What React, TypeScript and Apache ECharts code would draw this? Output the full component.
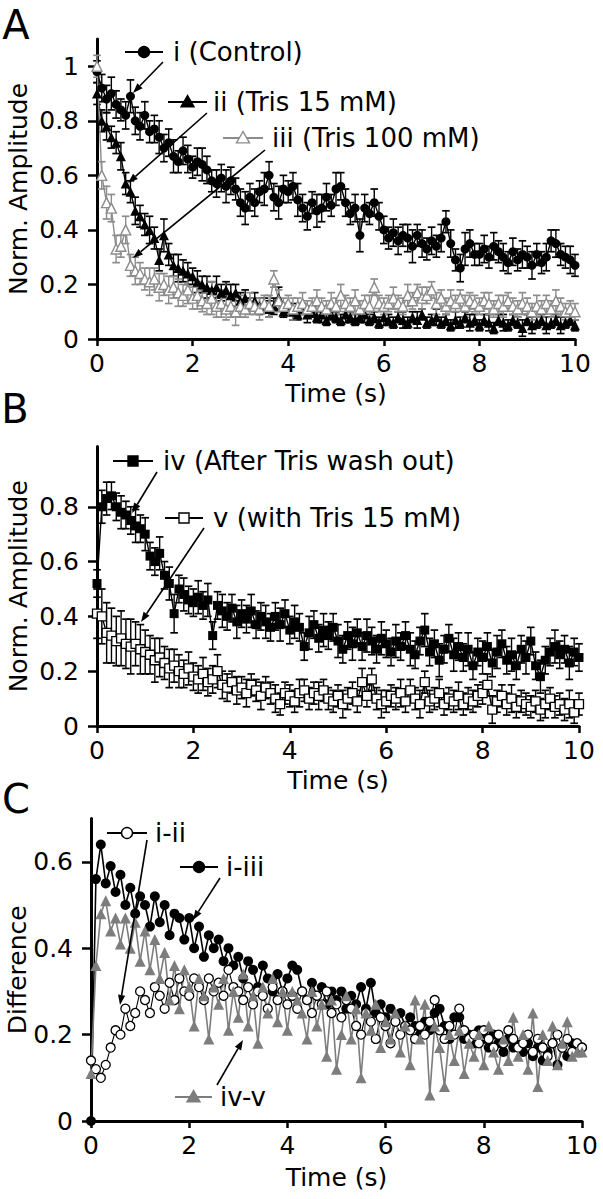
import React, { useEffect, useRef } from "react";
import * as echarts from "echarts";

// sampling times (s)
const DT = 0.1;
const TIME = Array.from({ length: 101 }, (_, k) => Math.round(k * DT * 10) / 10);

// Panel A
const ctrl = [
  0.98, 0.92, 0.88, 0.9, 0.86, 0.84, 0.82, 0.89, 0.8, 0.78,
  0.82, 0.76, 0.77, 0.74, 0.7, 0.72, 0.67, 0.65, 0.69, 0.66,
  0.63, 0.65, 0.64, 0.62, 0.58, 0.57, 0.59, 0.56, 0.58, 0.55,
  0.5, 0.48, 0.52, 0.5, 0.54, 0.55, 0.6, 0.52, 0.5, 0.55,
  0.54, 0.56, 0.51, 0.48, 0.45, 0.5, 0.47, 0.48, 0.52, 0.49,
  0.55, 0.56, 0.5, 0.46, 0.48, 0.38, 0.48, 0.46, 0.5, 0.45,
  0.4, 0.37, 0.39, 0.36, 0.38, 0.37, 0.34, 0.38, 0.35, 0.33,
  0.36, 0.34, 0.37, 0.43, 0.35, 0.29, 0.26, 0.33, 0.35, 0.31,
  0.31, 0.33, 0.3, 0.34, 0.32, 0.3, 0.28, 0.32, 0.29, 0.31,
  0.3, 0.27, 0.31, 0.28, 0.3, 0.36, 0.35, 0.31, 0.3, 0.29,
  0.27,
];
const ctrlErr = [
  0.04, 0.05, 0.05, 0.06, 0.05, 0.04, 0.05, 0.06, 0.05, 0.05,
  0.05, 0.04, 0.05, 0.06, 0.05, 0.05, 0.06, 0.04, 0.05, 0.05,
  0.04, 0.05, 0.06, 0.05, 0.04, 0.05, 0.05, 0.06, 0.05, 0.04,
  0.05, 0.06, 0.05, 0.05, 0.04, 0.06, 0.05, 0.05, 0.06, 0.05,
  0.04, 0.05, 0.06, 0.05, 0.05, 0.04, 0.06, 0.05, 0.05, 0.04,
  0.06, 0.05, 0.05, 0.04, 0.05, 0.06, 0.05, 0.04, 0.05, 0.05,
  0.05, 0.04, 0.05, 0.05, 0.04, 0.05, 0.06, 0.04, 0.05, 0.04,
  0.05, 0.04, 0.05, 0.04, 0.05, 0.04, 0.05, 0.06, 0.05, 0.04,
  0.04, 0.05, 0.04, 0.05, 0.04, 0.05, 0.04, 0.05, 0.04, 0.05,
  0.04, 0.05, 0.04, 0.04, 0.05, 0.04, 0.05, 0.04, 0.04, 0.05,
  0.04,
];
const tris15 = [
  0.9, 0.8, 0.78, 0.74, 0.72, 0.67, 0.57, 0.54, 0.47, 0.45,
  0.42, 0.4, 0.37, 0.29, 0.38, 0.31, 0.27, 0.26, 0.25, 0.24,
  0.23, 0.21, 0.2, 0.19, 0.18, 0.19, 0.17, 0.18, 0.16, 0.17,
  0.14, 0.15, 0.13, 0.14, 0.12, 0.13, 0.11, 0.12, 0.15, 0.1,
  0.11, 0.1, 0.09, 0.11, 0.09, 0.1, 0.08, 0.09, 0.07, 0.09,
  0.08, 0.07, 0.09, 0.08, 0.07, 0.08, 0.09, 0.07, 0.08, 0.06,
  0.08, 0.07, 0.06, 0.08, 0.07, 0.06, 0.08, 0.07, 0.09, 0.06,
  0.07, 0.08, 0.06, 0.07, 0.05, 0.07, 0.06, 0.08, 0.06, 0.07,
  0.05, 0.07, 0.06, 0.04, 0.07, 0.06, 0.05, 0.07, 0.06, 0.04,
  0.07, 0.05, 0.06, 0.07, 0.05, 0.06, 0.07, 0.05, 0.06, 0.07,
  0.05,
];
const tris15Err = [
  0.04, 0.04, 0.05, 0.04, 0.04, 0.05, 0.04, 0.04, 0.05, 0.04,
  0.04, 0.05, 0.04, 0.04, 0.06, 0.04, 0.04, 0.05, 0.04, 0.04,
  0.03, 0.04, 0.03, 0.04, 0.03, 0.04, 0.03, 0.03, 0.04, 0.03,
  0.03, 0.03, 0.02, 0.03, 0.03, 0.02, 0.03, 0.03, 0.04, 0.02,
  0.02, 0.03, 0.02, 0.02, 0.03, 0.02, 0.02, 0.03, 0.02, 0.02,
  0.02, 0.02, 0.03, 0.02, 0.02, 0.02, 0.03, 0.02, 0.02, 0.02,
  0.03, 0.02, 0.02, 0.02, 0.03, 0.02, 0.02, 0.03, 0.02, 0.02,
  0.02, 0.03, 0.02, 0.02, 0.02, 0.03, 0.02, 0.02, 0.03, 0.02,
  0.02, 0.02, 0.03, 0.02, 0.02, 0.03, 0.02, 0.02, 0.02, 0.03,
  0.02, 0.03, 0.02, 0.02, 0.03, 0.02, 0.02, 0.03, 0.02, 0.02,
  0.02,
];
const tris100 = [
  1.0, 0.6, 0.5, 0.48, 0.33, 0.34, 0.4, 0.27, 0.25, 0.24,
  0.22, 0.21, 0.22, 0.19, 0.2, 0.18, 0.19, 0.17, 0.16, 0.18,
  0.15, 0.16, 0.14, 0.13, 0.15, 0.12, 0.13, 0.11, 0.12, 0.1,
  0.12, 0.11, 0.13, 0.12, 0.11, 0.13, 0.12, 0.22, 0.14, 0.12,
  0.13, 0.11, 0.12, 0.13, 0.11, 0.12, 0.14, 0.12, 0.11, 0.13,
  0.12, 0.16, 0.13, 0.12, 0.14, 0.11, 0.13, 0.12, 0.19, 0.13,
  0.12, 0.13, 0.15, 0.13, 0.12, 0.16, 0.14, 0.17, 0.15, 0.16,
  0.18, 0.13, 0.15, 0.12, 0.14, 0.13, 0.15, 0.12, 0.14, 0.13,
  0.12, 0.14, 0.13, 0.11, 0.13, 0.12, 0.14, 0.12, 0.11, 0.13,
  0.12, 0.1, 0.12, 0.11, 0.13, 0.11, 0.14, 0.12, 0.1, 0.11,
  0.1,
];
const tris100Err = [
  0.04, 0.05, 0.06, 0.05, 0.05, 0.04, 0.05, 0.04, 0.05, 0.04,
  0.04, 0.05, 0.04, 0.05, 0.04, 0.05, 0.04, 0.05, 0.04, 0.05,
  0.04, 0.05, 0.04, 0.04, 0.06, 0.04, 0.05, 0.04, 0.04, 0.05,
  0.04, 0.03, 0.04, 0.03, 0.04, 0.03, 0.04, 0.03, 0.04, 0.03,
  0.03, 0.04, 0.03, 0.04, 0.03, 0.03, 0.04, 0.03, 0.03, 0.04,
  0.03, 0.04, 0.03, 0.03, 0.04, 0.03, 0.03, 0.04, 0.03, 0.03,
  0.03, 0.03, 0.04, 0.03, 0.03, 0.04, 0.03, 0.03, 0.04, 0.03,
  0.03, 0.04, 0.03, 0.03, 0.04, 0.03, 0.03, 0.04, 0.03, 0.03,
  0.03, 0.03, 0.04, 0.03, 0.03, 0.04, 0.03, 0.03, 0.03, 0.04,
  0.03, 0.03, 0.04, 0.03, 0.03, 0.03, 0.04, 0.03, 0.03, 0.03,
  0.03,
];

// Panel B
const washOut = [
  0.52, 0.8, 0.83, 0.84, 0.8, 0.78, 0.77, 0.75, 0.73, 0.72,
  0.7, 0.62, 0.6, 0.63, 0.55, 0.52, 0.41, 0.5, 0.48, 0.46,
  0.45, 0.47, 0.44, 0.46, 0.33, 0.44, 0.42, 0.4, 0.43, 0.38,
  0.41, 0.39, 0.42, 0.37, 0.4, 0.38, 0.36, 0.4, 0.37, 0.41,
  0.35, 0.38, 0.36, 0.29, 0.34, 0.37, 0.32, 0.35, 0.33, 0.36,
  0.31, 0.28, 0.33, 0.3, 0.34, 0.29, 0.33, 0.31, 0.28, 0.32,
  0.3, 0.27, 0.31, 0.29, 0.33, 0.28, 0.26, 0.31, 0.35, 0.27,
  0.3, 0.24, 0.28, 0.32, 0.26, 0.29, 0.25, 0.28, 0.22, 0.27,
  0.25, 0.29, 0.23, 0.27, 0.3, 0.24, 0.26, 0.22, 0.28, 0.25,
  0.31, 0.22, 0.18, 0.24, 0.27, 0.29, 0.26, 0.28, 0.23, 0.27,
  0.25,
];
const washOutErr = [
  0.05, 0.06, 0.06, 0.05, 0.05, 0.06, 0.05, 0.05, 0.06, 0.05,
  0.06, 0.05, 0.05, 0.06, 0.05, 0.06, 0.07, 0.05, 0.06, 0.05,
  0.05, 0.06, 0.05, 0.06, 0.05, 0.05, 0.06, 0.05, 0.05, 0.06,
  0.05, 0.05, 0.06, 0.05, 0.05, 0.06, 0.05, 0.05, 0.06, 0.05,
  0.05, 0.06, 0.05, 0.05, 0.06, 0.05, 0.05, 0.06, 0.05, 0.05,
  0.06, 0.05, 0.05, 0.06, 0.05, 0.05, 0.06, 0.05, 0.05, 0.06,
  0.05, 0.05, 0.06, 0.05, 0.05, 0.06, 0.05, 0.05, 0.06, 0.05,
  0.05, 0.06, 0.05, 0.05, 0.06, 0.05, 0.05, 0.06, 0.05, 0.05,
  0.06, 0.05, 0.05, 0.06, 0.05, 0.05, 0.06, 0.05, 0.05, 0.06,
  0.05, 0.05, 0.06, 0.05, 0.05, 0.06, 0.05, 0.05, 0.06, 0.05,
  0.05,
];
const withTris = [
  0.41, 0.4, 0.34, 0.33, 0.31, 0.32, 0.3, 0.29, 0.3, 0.28,
  0.27, 0.26, 0.24, 0.25, 0.23, 0.21, 0.22, 0.2, 0.19, 0.21,
  0.18, 0.17, 0.19, 0.16, 0.17, 0.2, 0.15, 0.14, 0.16, 0.13,
  0.14, 0.12, 0.15, 0.13, 0.11, 0.14, 0.12, 0.1, 0.08, 0.12,
  0.11, 0.09, 0.12, 0.13, 0.1, 0.12, 0.11, 0.13, 0.1, 0.09,
  0.11, 0.08, 0.1, 0.12, 0.09, 0.16, 0.11, 0.17, 0.1, 0.08,
  0.09, 0.11, 0.1, 0.12, 0.09, 0.13, 0.1, 0.08, 0.16, 0.09,
  0.1, 0.12, 0.08, 0.1, 0.09, 0.11, 0.08, 0.1, 0.09, 0.11,
  0.12, 0.15, 0.06, 0.09, 0.11, 0.08, 0.1, 0.07, 0.09, 0.08,
  0.07, 0.09, 0.06, 0.08, 0.1, 0.07, 0.08, 0.06, 0.08, 0.05,
  0.08,
];
const withTrisErr = [
  0.09, 0.1, 0.11, 0.1, 0.09, 0.1, 0.09, 0.1, 0.08, 0.09,
  0.08, 0.07, 0.08, 0.07, 0.06, 0.07, 0.06, 0.06, 0.05, 0.06,
  0.05, 0.05, 0.06, 0.05, 0.05, 0.06, 0.05, 0.05, 0.04, 0.05,
  0.04, 0.05, 0.04, 0.04, 0.05, 0.04, 0.04, 0.05, 0.04, 0.04,
  0.04, 0.04, 0.05, 0.04, 0.04, 0.04, 0.05, 0.04, 0.04, 0.04,
  0.04, 0.05, 0.04, 0.04, 0.04, 0.05, 0.04, 0.04, 0.04, 0.05,
  0.04, 0.04, 0.04, 0.05, 0.04, 0.04, 0.04, 0.05, 0.04, 0.04,
  0.04, 0.05, 0.04, 0.04, 0.04, 0.05, 0.04, 0.04, 0.04, 0.04,
  0.04, 0.04, 0.05, 0.04, 0.04, 0.04, 0.05, 0.04, 0.04, 0.04,
  0.04, 0.04, 0.04, 0.05, 0.04, 0.04, 0.04, 0.04, 0.05, 0.04,
  0.04,
];

// Panel C
const diffIII = [
  0.0, 0.56, 0.64, 0.55, 0.59, 0.53, 0.57, 0.5, 0.54, 0.48,
  0.52, 0.5, 0.45, 0.52, 0.46, 0.5, 0.43, 0.48, 0.47, 0.42,
  0.47, 0.4, 0.45, 0.38, 0.43, 0.4, 0.42, 0.37, 0.4, 0.36,
  0.38, 0.33, 0.37, 0.35, 0.31, 0.36, 0.33, 0.3, 0.34, 0.3,
  0.33, 0.36, 0.35, 0.3, 0.28, 0.32, 0.29, 0.31, 0.27, 0.3,
  0.28, 0.3, 0.26, 0.29, 0.27, 0.31, 0.26, 0.32, 0.25, 0.27,
  0.24, 0.26, 0.23, 0.25, 0.22, 0.24, 0.22, 0.2, 0.23, 0.21,
  0.25, 0.26, 0.22, 0.19, 0.24, 0.24, 0.19, 0.2, 0.18, 0.21,
  0.19, 0.17, 0.2, 0.18, 0.16, 0.19, 0.17, 0.18, 0.16, 0.18,
  0.15, 0.17, 0.14, 0.16, 0.18, 0.13, 0.17, 0.15, 0.18, 0.16,
  0.17,
];
const diffII = [
  0.14, 0.12, 0.1, 0.13, 0.17, 0.21, 0.2, 0.26, 0.22, 0.25,
  0.3, 0.28, 0.25, 0.31, 0.29, 0.26, 0.32, 0.28, 0.33, 0.3,
  0.29, 0.33, 0.31, 0.28, 0.33, 0.3, 0.32, 0.29, 0.35, 0.31,
  0.3, 0.28, 0.31, 0.27, 0.3, 0.29, 0.26, 0.31, 0.28, 0.3,
  0.27, 0.29, 0.26, 0.3, 0.28, 0.25, 0.29, 0.27, 0.3, 0.25,
  0.27, 0.24, 0.28, 0.26, 0.22, 0.2, 0.25, 0.23, 0.19, 0.24,
  0.22, 0.18, 0.23, 0.2, 0.22, 0.21, 0.19, 0.22, 0.2, 0.23,
  0.28, 0.21, 0.19, 0.22, 0.2, 0.26, 0.21, 0.19, 0.2, 0.18,
  0.21, 0.19, 0.17, 0.2, 0.18, 0.21, 0.19, 0.17, 0.18, 0.2,
  0.16, 0.19, 0.17, 0.15, 0.18, 0.2, 0.17, 0.19, 0.16, 0.18,
  0.17,
];
const diffIVV = [
  0.11, 0.36, 0.48, 0.51, 0.44, 0.47, 0.41, 0.47, 0.4, 0.46,
  0.37, 0.44, 0.35, 0.42, 0.33, 0.39, 0.28, 0.36, 0.26, 0.35,
  0.31, 0.22, 0.33, 0.29, 0.19, 0.31, 0.27, 0.33, 0.21, 0.3,
  0.24, 0.34, 0.22, 0.29, 0.18, 0.31, 0.25, 0.33, 0.23, 0.3,
  0.21, 0.3, 0.28, 0.25, 0.19, 0.3, 0.22, 0.27, 0.15, 0.28,
  0.12, 0.2, 0.29, 0.19, 0.26, 0.1, 0.25, 0.21, 0.27, 0.17,
  0.23, 0.19, 0.25, 0.16, 0.22, 0.13, 0.28, 0.19, 0.27, 0.06,
  0.22, 0.17, 0.08, 0.2, 0.14, 0.21, 0.11, 0.18, 0.15, 0.2,
  0.13, 0.22, 0.16, 0.12, 0.19, 0.14, 0.24, 0.15, 0.2, 0.12,
  0.25, 0.08, 0.2, 0.14, 0.22, 0.13, 0.18, 0.23, 0.15, 0.16,
  0.16,
];

const X_TICKS = [0, 2, 4, 6, 8, 10];
const Y_TICKS_A = [0, 0.2, 0.4, 0.6, 0.8, 1];
const Y_TICKS_B = [0, 0.2, 0.4, 0.6, 0.8];
const Y_TICKS_C = [0, 0.2, 0.4, 0.6];

const FONT = "DejaVu Sans";
const GRAY = "#8c8c8c";
const CGRAY = "#7d7d7d";

const pts = (v: number[]) => TIME.map((t, i) => [t, v[i]]);
const errPts = (v: number[], e: number[]) => TIME.map((t, i) => [t, v[i], e[i]]);

function errSeries(gi: number, v: number[], e: number[], color: string) {
  return {
    type: "custom",
    xAxisIndex: gi,
    yAxisIndex: gi,
    silent: true,
    encode: { x: 0, y: 1 },
    data: errPts(v, e),
    renderItem: (params: any, api: any) => {
      const x = api.value(0);
      const y = api.value(1);
      const er = api.value(2);
      const hi = api.coord([x, y + er]);
      const lo = api.coord([x, Math.max(0, y - er)]);
      const cw = 3.8;
      return {
        type: "group",
        children: [
          { type: "line", shape: { x1: hi[0], y1: hi[1], x2: lo[0], y2: lo[1] }, style: { stroke: color, lineWidth: 1.4 } },
          { type: "line", shape: { x1: hi[0] - cw, y1: hi[1], x2: hi[0] + cw, y2: hi[1] }, style: { stroke: color, lineWidth: 1.7 } },
          { type: "line", shape: { x1: lo[0] - cw, y1: lo[1], x2: lo[0] + cw, y2: lo[1] }, style: { stroke: color, lineWidth: 1.7 } },
        ],
      };
    },
  };
}

function lineSeries(gi: number, v: number[], o: any) {
  return {
    type: "line",
    xAxisIndex: gi,
    yAxisIndex: gi,
    data: pts(v),
    symbol: o.symbol,
    symbolSize: o.size,
    showSymbol: true,
    silent: true,
    clip: false,
    lineStyle: { color: o.line, width: o.lw ?? 1.4 },
    itemStyle: { color: o.fill, borderColor: o.stroke ?? o.fill, borderWidth: o.bw ?? 0, opacity: 1 },
    emphasis: { disabled: true },
  };
}

const axisText = { color: "#000", fontSize: 25, fontFamily: FONT };

function xAxis(gi: number, gap: number) {
  return {
    type: "value",
    gridIndex: gi,
    min: 0,
    max: 10,
    interval: 2,
    axisLine: { show: true, onZero: false, lineStyle: { color: "#000", width: 3 } },
    axisTick: { show: true, length: 7, lineStyle: { color: "#000", width: 2.5 }, customValues: X_TICKS },
    axisLabel: { ...axisText, margin: 12, customValues: X_TICKS },
    splitLine: { show: false },
    name: "Time (s)",
    nameLocation: "middle",
    nameGap: gap,
    nameTextStyle: axisText,
  };
}

function yAxis(gi: number, max: number, ticks: number[], name: string, gap: number) {
  return {
    type: "value",
    gridIndex: gi,
    min: 0,
    max,
    interval: 0.2,
    axisLine: { show: true, onZero: false, lineStyle: { color: "#000", width: 3 } },
    axisTick: { show: true, length: 9, lineStyle: { color: "#000", width: 2.5 }, customValues: ticks },
    axisLabel: { ...axisText, margin: 18, customValues: ticks },
    splitLine: { show: false },
    name,
    nameLocation: "middle",
    nameRotate: 90,
    nameGap: gap,
    nameMoveOverlap: false,
    nameTextStyle: axisText,
  };
}

function arrow(x1: number, y1: number, x2: number, y2: number) {
  const dx = x2 - x1;
  const dy = y2 - y1;
  const L = Math.hypot(dx, dy);
  const ux = dx / L;
  const uy = dy / L;
  const hl = 10;
  const hw = 3.6;
  const bx = x2 - ux * hl;
  const by = y2 - uy * hl;
  return [
    { type: "line", shape: { x1, y1, x2: bx, y2: by }, style: { stroke: "#000", lineWidth: 1.6 }, z: 100 },
    {
      type: "polygon",
      shape: { points: [[x2, y2], [bx - uy * hw, by + ux * hw], [bx + uy * hw, by - ux * hw]] },
      style: { fill: "#000" },
      z: 100,
    },
  ];
}

function marker(kind: string, cx: number, cy: number, fill: string, stroke: string) {
  if (kind === "circle") return { type: "circle", shape: { cx, cy, r: 5.5 }, style: { fill, stroke, lineWidth: 1.4 }, z: 101 };
  if (kind === "rect") return { type: "rect", shape: { x: cx - 5, y: cy - 5, width: 10, height: 10 }, style: { fill, stroke, lineWidth: 1.4 }, z: 101 };
  const s = 6.5;
  return {
    type: "polygon",
    shape: { points: [[cx, cy - s], [cx - s, cy + s * 0.75], [cx + s, cy + s * 0.75]] },
    style: { fill, stroke, lineWidth: 1.4 },
    z: 101,
  };
}

function legendItem(x1: number, x2: number, y: number, kind: string, fill: string, color: string, label: string, tx: number) {
  return [
    { type: "line", shape: { x1, y1: y, x2, y2: y }, style: { stroke: color, lineWidth: 2.2 }, z: 100 },
    marker(kind, (x1 + x2) / 2, y, fill, color),
    {
      type: "text",
      x: tx,
      y,
      style: { text: label, fill: "#000", fontSize: 26, fontFamily: FONT, align: "left", verticalAlign: "middle" },
      z: 100,
    },
  ];
}

function letter(t: string, x: number, y: number) {
  return {
    type: "text",
    x,
    y,
    style: { text: t, fill: "#000", fontSize: 40, fontFamily: FONT, align: "center", verticalAlign: "middle" },
    z: 100,
  };
}

export default function App() {
  const ref = useRef<HTMLDivElement>(null);
  useEffect(() => {
    document.body.style.margin = "0";
    if (!ref.current) return;
    const chart = echarts.init(ref.current, undefined, { renderer: "svg" });
    const option: any = {
      animation: false,
      backgroundColor: "#fff",
      grid: [
        { left: 97, right: 28, top: 39, height: 300, outerBoundsMode: "none" },
        { left: 97, right: 24, top: 446.5, height: 279.5, outerBoundsMode: "none" },
        { left: 91, right: 21, top: 818.6, height: 302.4, outerBoundsMode: "none" },
      ],
      xAxis: [xAxis(0, 42), xAxis(1, 42), xAxis(2, 44)],
      yAxis: [
        yAxis(0, 1.1, Y_TICKS_A, "Norm. Amplitude", 66),
        yAxis(1, 1.02, Y_TICKS_B, "Norm. Amplitude", 66),
        yAxis(2, 0.7, Y_TICKS_C, "Difference", 61),
      ],
      series: [
        errSeries(0, ctrl, ctrlErr, "#000"),
        lineSeries(0, ctrl, { symbol: "circle", size: 9, line: "#000", fill: "#000" }),
        errSeries(0, tris15, tris15Err, "#000"),
        lineSeries(0, tris15, { symbol: "triangle", size: 10, line: "#000", fill: "#000" }),
        errSeries(0, tris100, tris100Err, GRAY),
        lineSeries(0, tris100, { symbol: "triangle", size: 10, line: GRAY, fill: "#fff", stroke: GRAY, bw: 1.4 }),

        errSeries(1, washOut, washOutErr, "#000"),
        lineSeries(1, washOut, { symbol: "rect", size: 9, line: "#000", fill: "#000" }),
        errSeries(1, withTris, withTrisErr, "#000"),
        lineSeries(1, withTris, { symbol: "rect", size: 9, line: "#000", fill: "#fff", stroke: "#000", bw: 1.3 }),

        lineSeries(2, diffIII, { symbol: "circle", size: 10, line: "#000", fill: "#000", lw: 1.6 }),
        lineSeries(2, diffII, { symbol: "circle", size: 9, line: "#000", fill: "#fff", stroke: "#000", bw: 1.3, lw: 1.1 }),
        lineSeries(2, diffIVV, { symbol: "triangle", size: 11, line: CGRAY, fill: CGRAY, lw: 1.6 }),
      ],
      graphic: [
        letter("A", 16, 25),
        letter("B", 15, 409),
        letter("C", 16, 799),
        ...legendItem(125, 163, 52, "circle", "#000", "#000", "i (Control)", 173),
        ...arrow(163, 62, 133, 93),
        ...legendItem(168, 207, 102, "tri", "#000", "#000", "ii (Tris 15 mM)", 213),
        ...arrow(207, 113, 128, 183),
        ...legendItem(223, 263, 138, "tri", "#fff", GRAY, "iii (Tris 100 mM)", 272),
        ...arrow(265, 150, 133, 258),

        ...legendItem(113, 153, 461, "rect", "#000", "#000", "iv (After Tris wash out)", 163),
        ...arrow(157, 472, 132, 513),
        ...legendItem(165, 203, 518, "rect", "#fff", "#000", "v (with Tris 15 mM)", 213),
        ...arrow(204, 528, 141, 622),

        ...legendItem(107, 147, 833, "circle", "#fff", "#000", "i-ii", 155),
        ...arrow(147, 840, 120, 1005),
        ...legendItem(180, 218, 867, "circle", "#000", "#000", "i-iii", 226),
        ...arrow(220, 878, 193, 920),
        ...legendItem(175, 212, 1097, "tri", CGRAY, CGRAY, "iv-v", 220),
        ...arrow(217, 1085, 243, 1040),
      ],
    };
    chart.setOption(option);
    return () => chart.dispose();
  }, []);
  return <div ref={ref} style={{ width: 603, height: 1199 }} />;
}
